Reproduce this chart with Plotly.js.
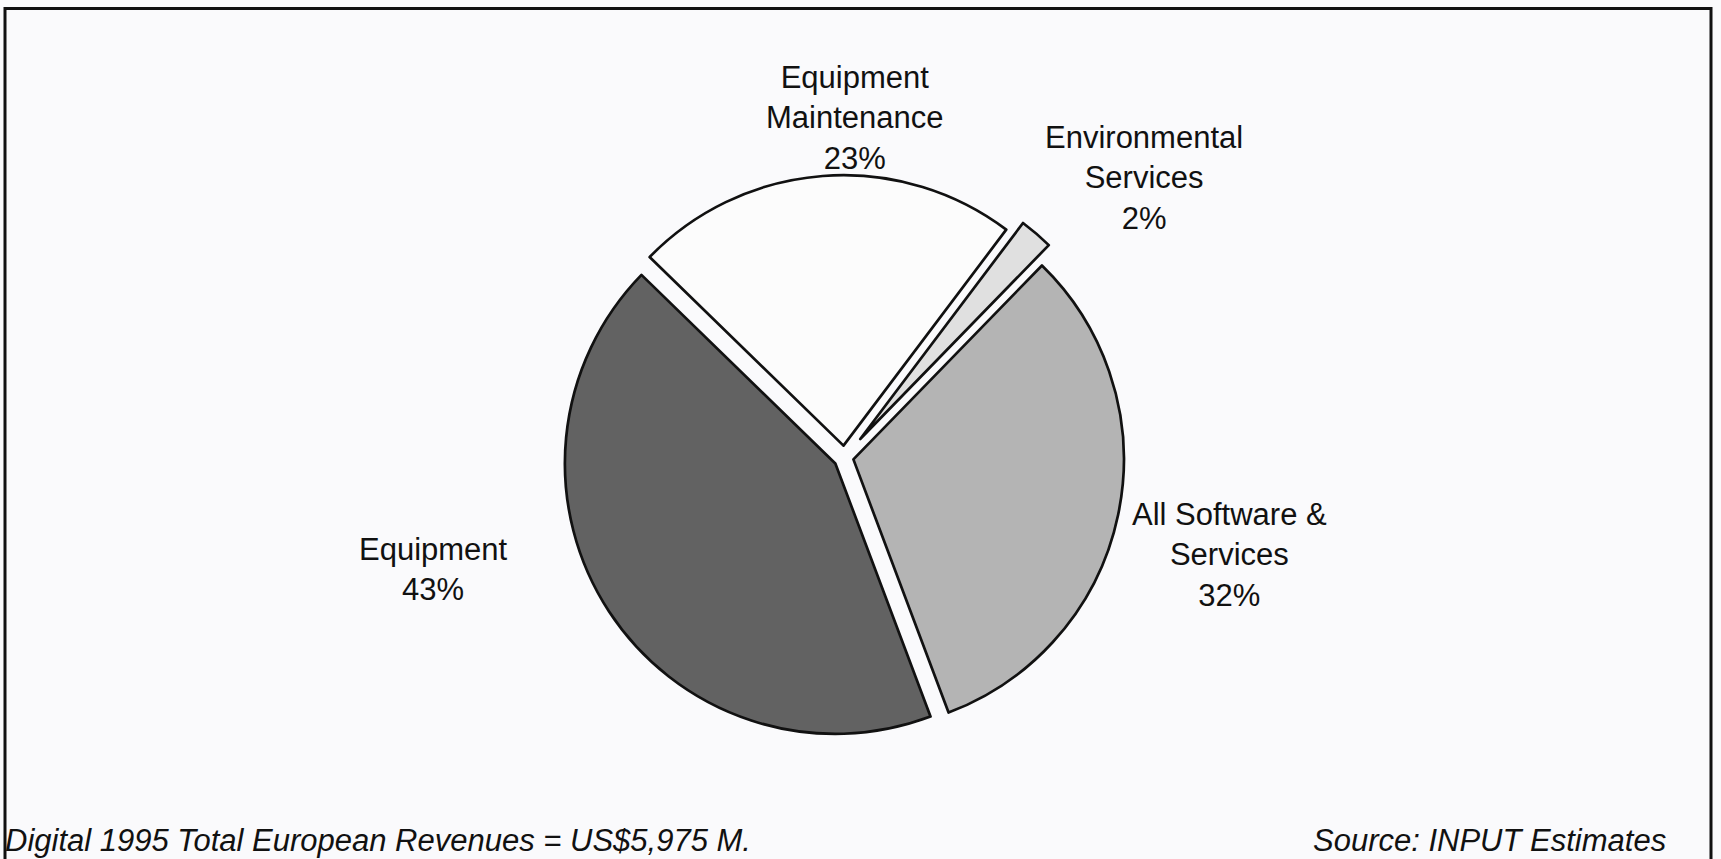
<!DOCTYPE html>
<html>
<head>
<meta charset="utf-8">
<script src="https://cdn.plot.ly/plotly-3.0.1.min.js"></script>
<style>html,body{margin:0;padding:0;background:#fafafc;}#chart{width:1721px;height:859px;}</style>
</head>
<body>
<div id="chart"></div>
<script>
// Data (clockwise from the Equipment/Maintenance boundary)
const categories = ["Equipment Maintenance", "Environmental Services", "All Software & Services", "Equipment"];
const shares = [23, 2, 32, 43];
const sliceLabels = ["Equipment<br>Maintenance<br>23%", "Environmental<br>Services<br>2%", "All Software &<br>Services<br>32%", "Equipment<br>43%"];
const footerLeft = "Digital 1995 Total European Revenues = US$5,975 M.";
const footerRight = "Source: INPUT Estimates";

const W = 1721, H = 859;
const sliceColors = ["#fcfcfc", "#e0e0e0", "#b4b4b4", "#626262"];
const pulls = [0.044, 0.09, 0.034, 0.04];

// label positions in pixels
const labelPos = [[855, 118], [1144, 178], [1229, 555], [433, 569]];

const px = x => x / W;
const py = y => 1 - y / H;
const FONT = "Liberation Sans, Arial, Helvetica, sans-serif";

const annotations = sliceLabels.map((t, i) => ({
  text: t, x: px(labelPos[i][0]), y: py(labelPos[i][1]), xref: "paper", yref: "paper",
  xanchor: "center", yanchor: "middle", showarrow: false, align: "center",
  font: {family: FONT, size: 31, color: "#111"}
}));
annotations.push({
  text: footerLeft, x: px(3), y: py(840), xref: "paper", yref: "paper",
  xanchor: "left", yanchor: "middle", showarrow: false,
  font: {family: FONT, size: 31, color: "#111", style: "italic"}
});
annotations.push({
  text: footerRight, x: px(1668), y: py(840), xref: "paper", yref: "paper",
  xanchor: "right", yanchor: "middle", showarrow: false,
  font: {family: FONT, size: 31, color: "#111", style: "italic"}
});

const cx = 844.4, cy = 457.5, half = 294.8;
const trace = {
  type: "pie",
  labels: categories,
  values: shares,
  sort: false,
  direction: "clockwise",
  rotation: -45.8,
  pull: pulls,
  textinfo: "none",
  hoverinfo: "label+percent",
  showlegend: false,
  marker: {colors: sliceColors, line: {color: "#111", width: 2.7}},
  domain: {x: [px(cx - half), px(cx + half)], y: [py(cy + half), py(cy - half)]}
};

const layout = {
  width: W, height: H,
  margin: {l: 0, r: 0, t: 0, b: 0},
  paper_bgcolor: "#fafafc",
  showlegend: false,
  annotations: annotations,
  shapes: [{
    type: "rect", xref: "paper", yref: "paper",
    x0: px(5), x1: px(1711), y0: -0.05, y1: py(8.5),
    line: {color: "#111", width: 3}
  }]
};

Plotly.newPlot("chart", [trace], layout, {displayModeBar: false, staticPlot: true});
</script>
</body>
</html>
